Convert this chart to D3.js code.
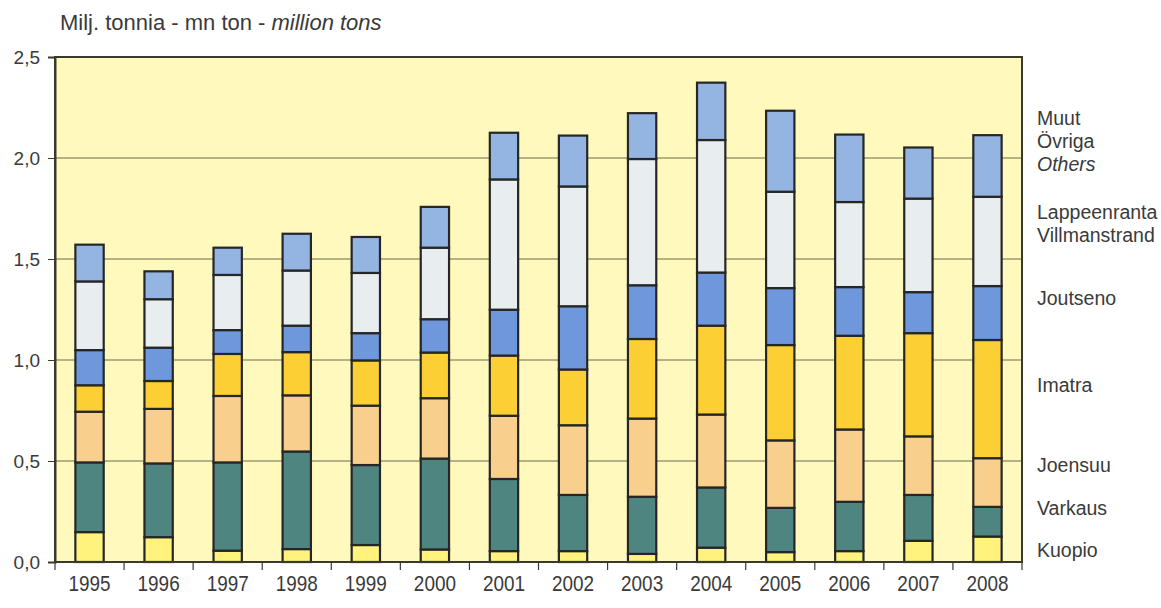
<!DOCTYPE html>
<html><head><meta charset="utf-8">
<script src="https://cdn.jsdelivr.net/npm/d3@7"></script>
<style>
body{margin:0;background:#fff;}
svg{display:block;font-family:"Liberation Sans",Arial,sans-serif;}
</style></head>
<body><svg id="c" width="1161" height="608"></svg>
<script>
const years = ["1995","1996","1997","1998","1999","2000","2001","2002","2003","2004","2005","2006","2007","2008"];
const seriesNames = ["Kuopio","Varkaus","Joensuu","Imatra","Joutseno","Lappeenranta","Muut"];
const kuopio       = [0.148,0.123,0.056,0.064,0.084,0.062,0.054,0.054,0.040,0.071,0.049,0.054,0.105,0.126];
const varkaus      = [0.345,0.365,0.437,0.483,0.396,0.450,0.357,0.278,0.283,0.298,0.219,0.244,0.227,0.147];
const joensuu      = [0.251,0.270,0.329,0.278,0.294,0.299,0.313,0.345,0.387,0.361,0.334,0.358,0.290,0.241];
const imatra       = [0.131,0.138,0.208,0.214,0.224,0.226,0.298,0.276,0.394,0.440,0.472,0.464,0.511,0.585];
const joutseno     = [0.174,0.165,0.118,0.131,0.135,0.165,0.227,0.313,0.266,0.263,0.282,0.241,0.203,0.267];
const lappeenranta = [0.340,0.240,0.273,0.273,0.298,0.354,0.645,0.593,0.625,0.656,0.477,0.421,0.463,0.442];
const muut         = [0.182,0.138,0.135,0.182,0.178,0.202,0.231,0.252,0.227,0.284,0.401,0.334,0.253,0.305];
const colors = ["#fff37e","#4f8580","#f9cf8e","#fccf35","#6f97dc","#e8eef0","#94b4e2"];
const yTicks = [0,0.5,1.0,1.5,2.0,2.5];
const legendLines = [
  {t:"Muut",y:118},{t:"Övriga",y:141},{t:"Others",y:164,it:true},
  {t:"Lappeenranta",y:212},{t:"Villmanstrand",y:235},
  {t:"Joutseno",y:298},{t:"Imatra",y:385},{t:"Joensuu",y:465},
  {t:"Varkaus",y:508},{t:"Kuopio",y:550}];

const svg = d3.select("#c");
const m = {l:55, r:1022, t:57, b:562};
const allSeries = [kuopio,varkaus,joensuu,imatra,joutseno,lappeenranta,muut];
const rows = years.map((y,i)=>{const o={year:y}; seriesNames.forEach((s,j)=>o[s]=allSeries[j][i]); return o;});
const stack = d3.stack().keys(seriesNames)(rows);

const x = d3.scaleBand().domain(years).range([m.l,m.r]).paddingInner(0.59).paddingOuter(0.295);
const xb = d3.scaleBand().domain(years).range([m.l,m.r]);
const y = d3.scaleLinear().domain([0,2.5]).range([m.b,m.t]);
const txt = "#3a3a3a";

svg.append("rect").attr("x",m.l).attr("y",m.t).attr("width",m.r-m.l).attr("height",m.b-m.t).attr("fill","#fff9bd");

svg.append("g").selectAll("line").data(yTicks.filter(d=>d>0&&d<2.5)).join("line")
  .attr("x1",m.l).attr("x2",m.r).attr("y1",d=>y(d)).attr("y2",d=>y(d))
  .attr("stroke","#6b6a4a").attr("stroke-width",1);

const g = svg.append("g");
stack.forEach((layer,k)=>{
  g.append("g").selectAll("rect").data(layer).join("rect")
   .attr("x",d=>x(d.data.year)).attr("width",x.bandwidth())
   .attr("y",d=>y(d[1])).attr("height",d=>y(d[0])-y(d[1]))
   .attr("fill",colors[k]).attr("stroke","#262626").attr("stroke-width",2.2);
});

svg.append("rect").attr("x",m.l).attr("y",m.t).attr("width",m.r-m.l).attr("height",m.b-m.t)
  .attr("fill","none").attr("stroke","#3a3a2c").attr("stroke-width",2);

const yAx = svg.append("g").attr("transform",`translate(${m.l},0)`)
  .call(d3.axisLeft(y).tickValues(yTicks).tickSize(7).tickFormat(d=>d3.format(".1f")(d).replace(".",",")));
yAx.select(".domain").attr("stroke","#3a3a2c").attr("stroke-width",2);
yAx.selectAll(".tick line").attr("stroke","#3a3a2c");
yAx.selectAll("text").attr("font-size",19).attr("fill",txt).attr("x",-15).attr("font-family","Liberation Sans, Arial, sans-serif");

const xAx = svg.append("g").attr("transform",`translate(0,${m.b})`);
xAx.append("line").attr("x1",m.l).attr("x2",m.r).attr("stroke","#3a3a2c").attr("stroke-width",2);
const bounds = years.map(d=>xb(d)).concat([m.r]);
xAx.selectAll("line.t").data(bounds).join("line").attr("class","t")
  .attr("x1",d=>d).attr("x2",d=>d).attr("y1",0).attr("y2",8).attr("stroke","#3a3a2c").attr("stroke-width",1.2);
xAx.selectAll("text").data(years).join("text")
  .attr("transform",d=>`translate(${xb(d)+xb.bandwidth()/2},29) scale(0.86,1)`)
  .attr("text-anchor","middle")
  .attr("font-size",22).attr("fill",txt).text(d=>d);

const title = svg.append("text").attr("x",60).attr("y",30).attr("font-size",22).attr("fill",txt);
title.append("tspan").text("Milj. tonnia - mn ton - ");
title.append("tspan").attr("font-style","italic").text("million tons");

svg.append("g").selectAll("text").data(legendLines).join("text")
  .attr("x",1037).attr("y",d=>d.y).attr("dy","0.35em").attr("font-size",19.5).attr("fill",txt)
  .attr("font-style",d=>d.it?"italic":"normal").text(d=>d.t);
</script></body></html>
